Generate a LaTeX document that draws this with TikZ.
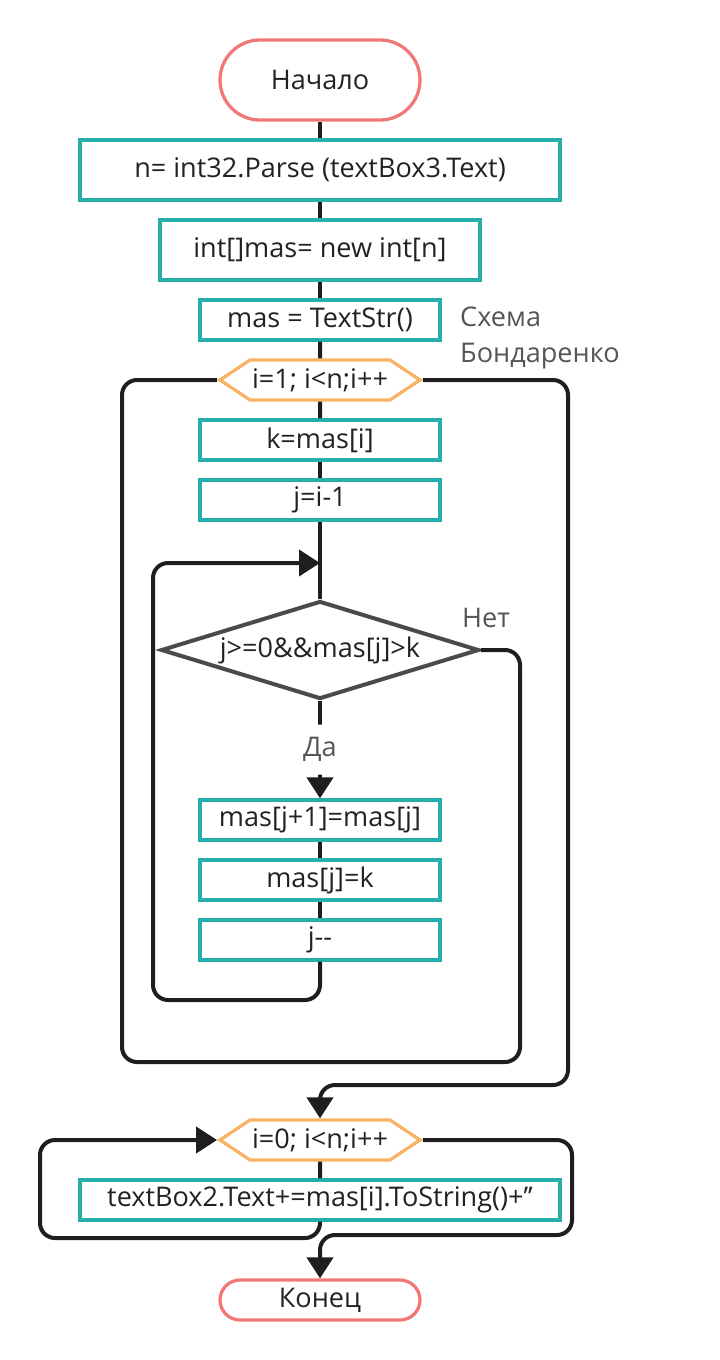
\documentclass[tikz,border=0pt]{standalone}
\usepackage{fontspec}
\setmainfont{Open Sans}
\usetikzlibrary{arrows.meta,shapes.geometric,shapes.symbols}
\definecolor{boxteal}{HTML}{26AEAA}
\definecolor{termred}{HTML}{F27878}
\definecolor{looporange}{HTML}{F8B464}
\definecolor{condgray}{HTML}{4A4A4A}
\definecolor{linedark}{HTML}{1E1E1E}
\definecolor{textdark}{HTML}{222222}
\definecolor{notegray}{HTML}{555555}
\begin{document}
\begin{tikzpicture}[x=0.2mm, y=-0.2mm, font=\fontsize{15.4}{18}\selectfont, text=textdark,
  proc/.style={draw=boxteal, line width=0.65mm, minimum height=8mm, inner sep=0},
  term/.style={draw=termred, line width=0.65mm, minimum width=40mm, inner sep=0},
  loophex/.style={draw=looporange, line width=0.65mm, signal, signal to=west and east,
    signal pointer angle=67.4, minimum width=40mm, minimum height=8mm, inner sep=0},
  cond/.style={draw=condgray, line width=0.8mm, diamond, aspect=3.25, minimum width=63.6mm,
    minimum height=19.6mm, inner sep=0},
  line/.style={draw=linedark, line width=0.8mm, rounded corners=3mm},
  arr/.style={line, -{Triangle[length=4.2mm, width=5.2mm]}},
  note/.style={text=notegray}]
\useasboundingbox (0,0) rectangle (720,1360);
\node[term, rounded corners=8mm, minimum height=16mm] (start) at (320,80) {Начало};
\node[proc, minimum width=96mm, minimum height=12mm] (b1) at (320,170) {n= int32.Parse (textBox3.Text)};
\node[proc, minimum width=64mm, minimum height=12mm] (b2) at (320,250) {int[]mas= new int[n]};
\node[proc, minimum width=48mm] (b3) at (320,320) {mas = TextStr()};
\node[note, anchor=west, align=left, font=\fontsize{15.4}{20}\selectfont] (title) at (454,338) {Схема\\Бондаренко};
\node[loophex] (h1) at (320,380) {i=1; i<n;i++};
\node[proc, minimum width=48mm] (k) at (320,440) {k=mas[i]};
\node[proc, minimum width=48mm] (jinit) at (320,500) {j=i-1};
\node[cond] (dia) at (320,650) {j>=0\&\&mas[j]>k};
\node[note] (no) at (486,618) {Нет};
% inner loop body
\foreach \n/\y/\t in {mj1/820/{mas[j+1]=mas[j]}, mk/880/{mas[j]=k}, jdec/940/{j{-}{-}}}
  \node[proc, minimum width=48mm] (\n) at (320,\y) {\t};
\coordinate (jin) at (320,563);
% output part
\node[loophex] (h2) at (320,1140) {i=0; i<n;i++};
\node[proc, minimum width=96mm] (out) at (320,1200) {textBox2.Text+=mas[i].ToString()+’{}’};
\node[term, rounded corners=4mm, minimum height=8mm] (fin) at (320,1300) {Конец};
% straight links
\foreach \a/\b in {start/b1, b1/b2, b2/b3, b3/h1, h1/k, k/jinit, jinit/dia, mj1/mk, mk/jdec, h2/out}
  \draw[line] (\a) -- (\b);
\draw[arr] (dia.south) -- node[fill=white, minimum height=10mm, inner sep=1mm, text=notegray] (yes) {Да} (mj1.north);
% loops
\draw[arr] (jdec.south) |- (153,1000) |- (jin);
\draw[line] (dia.east) -| (520,1062) -| (122,380) -- (h1.west);
\draw[arr] (h1.east) -| (568,1085) -| (h2.north);
\draw[arr] (out.south) |- (40,1238) |- (h2.west);
\draw[arr] (h2.east) -| (572,1235) -| (fin.north);
\end{tikzpicture}
\end{document}
